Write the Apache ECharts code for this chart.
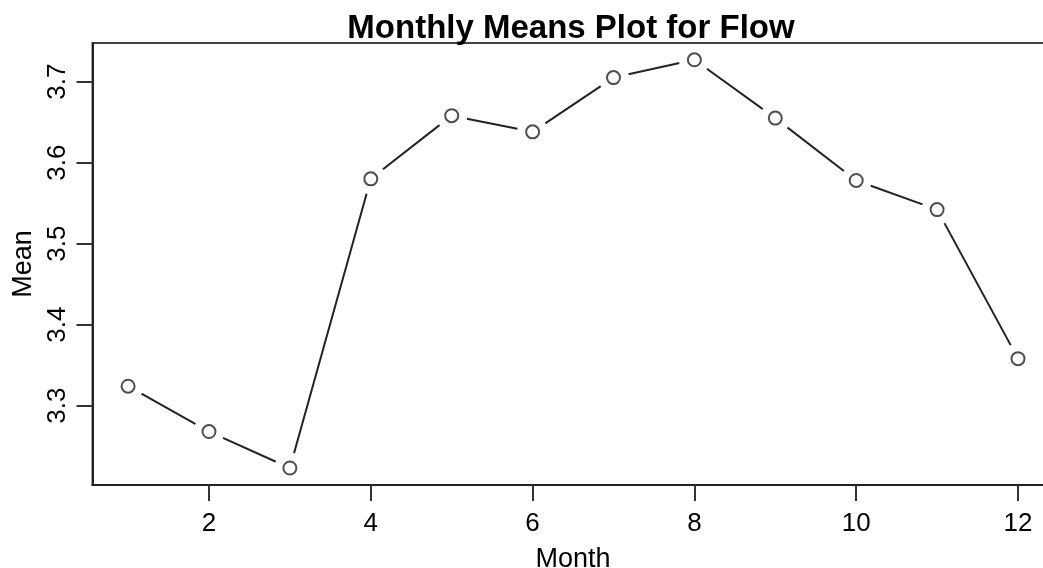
<!DOCTYPE html>
<html>
<head>
<meta charset="utf-8">
<script src="https://cdn.jsdelivr.net/npm/echarts@6/dist/echarts.min.js"></script>
<style>html,body{margin:0;padding:0;background:#fff;}#c{width:1043px;height:568px;}</style>
</head>
<body>
<div id="c"></div>
<script>
const months = [1,2,3,4,5,6,7,8,9,10,11,12];
const means = [3.324, 3.268, 3.223, 3.580, 3.658, 3.638, 3.705, 3.727, 3.655, 3.578, 3.542, 3.358];
const xTicks = [2,4,6,8,10,12];
const yTicks = [3.3,3.4,3.5,3.6,3.7];
const titleText = 'Monthly Means Plot for Flow';
const xName = 'Month';
const yName = 'Mean';

const pts = months.map((m,i)=>[m, means[i]]);
const font = 'Liberation Sans, Arial, sans-serif';
const chart = echarts.init(document.getElementById('c'), null, {renderer:'canvas'});
chart.setOption({
  animation: false,
  backgroundColor: '#fff',
  title: {
    text: titleText, left: 566, top: 7, textAlign: 'center',
    textStyle: {fontFamily: font, fontSize: 33, fontWeight: 'bold', color: '#000'}
  },
  grid: {left: 92.5, top: 43, height: 442, width: 961.1, outerBoundsMode: 'none', containLabel: false,
    show: true, borderColor: '#444', borderWidth: 2, backgroundColor: 'transparent'},
  xAxis: {
    type: 'value', min: 0.56, max: 12.44,
    name: xName, nameLocation: 'middle', nameGap: 61,
    nameTextStyle: {fontFamily: font, fontSize: 27, color: '#000'},
    axisLine: {show: true, onZero: false, lineStyle: {color: '#222', width: 2}},
    axisTick: {show: true, length: 16, customValues: xTicks, lineStyle: {color: '#333', width: 2}},
    axisLabel: {customValues: xTicks, margin: 26, fontFamily: font, fontSize: 26, color: '#000'},
    splitLine: {show: false}
  },
  yAxis: {
    type: 'value', min: 3.2020, max: 3.7477,
    name: yName, nameLocation: 'middle', nameGap: 54, nameRotate: 90,
    nameTextStyle: {fontFamily: font, fontSize: 27, color: '#000'},
    axisLine: {show: true, onZero: false, lineStyle: {color: '#222', width: 2}},
    axisTick: {show: true, length: 16, customValues: yTicks, lineStyle: {color: '#333', width: 2}},
    axisLabel: {customValues: yTicks, margin: 22, rotate: 90, fontFamily: font, fontSize: 26, color: '#000',
      formatter: v => v.toFixed(1)},
    splitLine: {show: false}
  },
  series: [
    {
      type: 'line', data: pts, symbol: 'circle', symbolSize: 31,
      itemStyle: {color: '#fff', borderWidth: 0},
      lineStyle: {color: '#222', width: 2},
      emphasis: {disabled: true}, silent: true, z: 2
    },
    {
      type: 'scatter', data: pts, symbol: 'emptyCircle', symbolSize: 13,
      itemStyle: {color: '#222', borderColor: '#222', borderWidth: 2},
      emphasis: {disabled: true}, silent: true, z: 3
    }
  ]
});
</script>
</body>
</html>
